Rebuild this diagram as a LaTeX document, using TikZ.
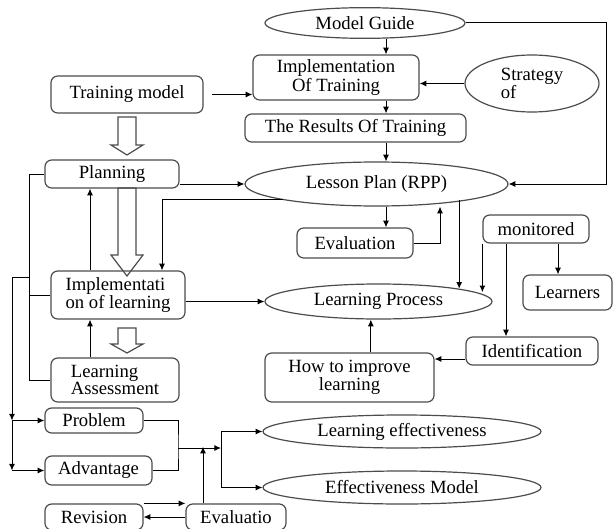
\documentclass[tikz,border=0pt]{standalone}
\usepackage{fontspec}
\setmainfont{Liberation Serif}
\usetikzlibrary{arrows.meta,shapes.geometric}
\begin{document}
\begin{tikzpicture}[x=0.75pt,y=-0.75pt]

    \tikzset{
      box/.style={
        draw=black!70,
        line width=0.9pt,
        rounded corners=5pt,
        inner sep=0pt,
        font=\fontsize{14}{11.5}\selectfont,
      },
      oval/.style={
        draw=black!70,
        line width=0.9pt,
        ellipse,
        inner sep=0pt,
        font=\fontsize{14}{11.5}\selectfont,
      },
      link/.style={line width=0.75pt},
      arr/.style={
        line width=0.75pt,
        -{Latex[length=5pt,width=4.5pt]},
      },
      hollow/.style={draw=black!70, line width=0.9pt},
    }
    \useasboundingbox (0,0) rectangle (613,528);
    \clip (0,0) rectangle (613,528);

	\node[oval, minimum width=150pt, minimum height=23pt] (guide) at (365,23) {Model Guide};
	\node[box, minimum width=124.5pt, minimum height=33.75pt, align=center] (impltr) at (336,77.5) {Implementation\\Of Training};
	\node[box, minimum width=114pt, minimum height=27.75pt] (train) at (127,94.5) {Training model};
	\node[oval, minimum width=100.5pt, minimum height=42.75pt, align=left] (strategy) at (532,83.5) {Strategy\\of};
	\node[box, minimum width=165.75pt, minimum height=21pt] (results) at (355.5,128) {The Results Of Training};
	\node[oval, minimum width=197.25pt, minimum height=33pt] (lesson) at (376.5,184) {Lesson Plan (RPP)};
	\node[box, minimum width=100.5pt, minimum height=21pt] (planning) at (112,174) {Planning};
	\node[box, minimum width=87pt, minimum height=22.5pt] (eval) at (355,243) {Evaluation};
	\node[box, minimum width=79.5pt, minimum height=21pt] (monitored) at (536,229) {monitored};
	\node[box, minimum width=100.5pt, minimum height=36pt, align=left] (impllr) at (118,295) {Implementati\\on of learning};
	\node[oval, minimum width=170.25pt, minimum height=26.25pt] (process) at (378.5,301.5) {Learning Process};
	\node[box, minimum width=66.75pt, minimum height=26.25pt] (learners) at (567.5,292.5) {Learners};
	\node[box, minimum width=99pt, minimum height=21pt] (ident) at (532,351) {Identification};
	\node[box, minimum width=126.75pt, minimum height=36.75pt, align=center] (howto) at (349.5,377.5) {How to improve\\learning};
	\node[box, minimum width=96pt, minimum height=33pt, align=left] (assess) at (115,380) {Learning\\Assessment};
	\node[box, minimum width=73.5pt, minimum height=18.75pt] (problem) at (94,420.5) {Problem};
	\node[box, minimum width=80.25pt, minimum height=21.75pt] (advantage) at (98.5,470.5) {Advantage};
	\node[oval, minimum width=208.5pt, minimum height=24.75pt] (effect) at (402,431.5) {Learning effectiveness};
	\node[oval, minimum width=208.5pt, minimum height=24.75pt] (effmodel) at (402,487.5) {Effectiveness Model};
	\node[box, minimum width=73.5pt, minimum height=19.5pt] (revision) at (94,517) {Revision};
	\node[box, minimum width=75pt, minimum height=19.5pt] (evaluatio) at (236,517) {Evaluatio};

	\coordinate (col) at (386,0);
	\coordinate (rt) at (606,0);
	\coordinate (c2) at (162,0);
	\coordinate (c3) at (90,0);
	\coordinate (c4) at (203,0);
	\coordinate (c5) at (440,0);
	\coordinate (c7) at (506,0);
	\coordinate (c8) at (558,0);
	\coordinate (l1) at (29,0);
	\coordinate (l2) at (12,277);
	\coordinate (j1) at (178,448);
	\coordinate (j2) at (221,448);

	\draw[hollow] (118,117) -- (136,117) -- (136,145) -- (143,145) -- (127,155) -- (111,145) -- (118,145) -- cycle;
	\draw[hollow] (118,188) -- (136,188) -- (136,255) -- (143,255) -- (127,276) -- (111,255) -- (118,255) -- cycle;
	\draw[hollow] (118,328) -- (136,328) -- (136,344) -- (143,344) -- (127,353) -- (111,344) -- (118,344) -- cycle;

	\draw[arr] (guide.south -| col) -- (impltr.north -| col);
	\draw[arr] (impltr.south -| col) -- (results.north -| col);
	\draw[arr] (results.south -| col) -- (lesson.north -| col);
	\draw[arr] (lesson.south -| col) -- (eval.north -| col);
	\draw[arr, shorten <=6pt] (train.east) -- (impltr.west |- train.east);
	\draw[arr] (strategy.west) -- (impltr.east |- strategy.west);
	\draw[arr] (guide.east) -- (guide.east -| rt) |- (lesson.east);
	\draw[arr] (planning.east |- lesson.west) -- (lesson.west);
	\draw[arr] (lesson.south west) -| (c2 |- impllr.north);
	\draw[arr] (impllr.north -| c3) -- (planning.south -| c3);
	\draw[arr] (assess.north -| c3) -- (impllr.south -| c3);
	\draw[arr] (impllr.east |- process.west) -- (process.west);
	\draw[arr] (eval.east) -| (c5 |- lesson.south);
	\draw[arr] (lesson.south east -| process.north east) -- (process.north east);
	\draw[arr, shorten >=7pt] (monitored.south west) -- (monitored.south west |- process.east);
	\draw[arr] (monitored.south -| c7) -- (ident.north -| c7);
	\draw[arr] (monitored.south -| c8) -- (learners.north -| c8);
	\draw[arr] ([yshift=-6pt]ident.west) -- ([yshift=-6pt]ident.west -| howto.east);
	\draw[arr] ([xshift=16pt]howto.north) -- ([xshift=16pt]howto.north |- process.south);

	\draw[link] (planning.west) -| (l1 |- assess.west) -- (assess.west);
	\draw[link] (impllr.west) -- (impllr.west -| l1);
	\draw[link] (l2 -| l1) -- (l2);
	\draw[arr] (l2) -- (l2 |- problem.west);
	\draw[arr] (l2 |- problem.west) -- (problem.west);
	\draw[arr] (l2 |- problem.west) -- (l2 |- advantage.west);
	\draw[arr] (l2 |- advantage.west) -- (advantage.west);
	\draw[link] (problem.east) -| (j1) |- (advantage.east);
	\draw[arr] (j1) -- (j2);
	\draw[arr] (j2) |- (effect.west);
	\draw[arr] (j2) |- (effmodel.west);
	\draw[arr, shorten >=-1pt] (evaluatio.north -| c4) -- (j1 -| c4);
	\draw[arr] (revision.north east) -- (evaluatio.north west);
	\draw[arr] (evaluatio.west) -- (revision.east);

\end{tikzpicture}
\end{document}
